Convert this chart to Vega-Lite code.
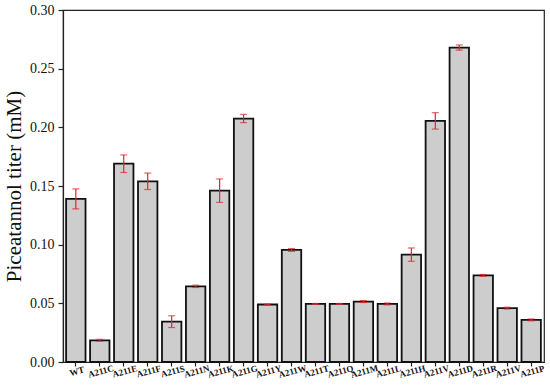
{
  "$schema": "https://vega.github.io/schema/vega-lite/v6.json",
  "autosize": "none",
  "padding": {"left": 63, "top": 10, "right": 6, "bottom": 23},
  "width": 481,
  "height": 352,
  "background": "white",
  "config": {
    "view": {"stroke": "#222", "strokeWidth": 1.2},
    "font": "Liberation Serif",
    "axis": {
      "domainColor": "#222",
      "domainWidth": 1.2,
      "tickColor": "#222",
      "tickWidth": 1.2,
      "labelColor": "#111",
      "titleColor": "#111",
      "labelFont": "Liberation Serif",
      "titleFont": "Liberation Serif",
      "grid": false
    }
  },
  "data": {
    "values": [
      {"mutant": "WT", "titer": 0.139, "err": 0.0085},
      {"mutant": "A211C", "titer": 0.0185, "err": 0.0008},
      {"mutant": "A211E", "titer": 0.169, "err": 0.0075},
      {"mutant": "A211F", "titer": 0.154, "err": 0.007},
      {"mutant": "A211S", "titer": 0.0344, "err": 0.005},
      {"mutant": "A211N", "titer": 0.0645, "err": 0.001},
      {"mutant": "A211K", "titer": 0.146, "err": 0.01},
      {"mutant": "A211G", "titer": 0.2075, "err": 0.0035},
      {"mutant": "A211Y", "titer": 0.049, "err": 0.0004},
      {"mutant": "A211W", "titer": 0.0955, "err": 0.0012},
      {"mutant": "A211T", "titer": 0.0495, "err": 0.0004},
      {"mutant": "A211Q", "titer": 0.0495, "err": 0.0004},
      {"mutant": "A211M", "titer": 0.0515, "err": 0.0008},
      {"mutant": "A211L", "titer": 0.0495, "err": 0.0008},
      {"mutant": "A211H", "titer": 0.0915, "err": 0.0057},
      {"mutant": "A211V", "titer": 0.2055, "err": 0.007},
      {"mutant": "A211D", "titer": 0.268, "err": 0.0022},
      {"mutant": "A211R", "titer": 0.0738, "err": 0.0008},
      {"mutant": "A211V ", "titer": 0.0459, "err": 0.0008},
      {"mutant": "A211P", "titer": 0.0359, "err": 0.0008}
    ]
  },
  "encoding": {
    "x": {
      "field": "mutant",
      "type": "nominal",
      "sort": null,
      "title": null,
      "scale": {"paddingInner": 0.19, "paddingOuter": 0.13},
      "axis": {
        "labelAngle": -15,
        "labelAlign": "center",
        "labelBaseline": "top",
        "labelFontSize": 9,
        "labelFontWeight": "bold",
        "labelPadding": 1,
        "tickSize": 4
      }
    }
  },
  "layer": [
    {
      "mark": {"type": "bar", "fill": "#cdcdcd", "stroke": "#111", "strokeWidth": 1.8},
      "encoding": {
        "y": {
          "field": "titer",
          "type": "quantitative",
          "scale": {"domain": [0, 0.3], "nice": false},
          "title": "Piceatannol titer (mM)",
          "axis": {
            "values": [0, 0.05, 0.1, 0.15, 0.2, 0.25, 0.3],
            "format": ".2f",
            "labelFontSize": 14,
            "titleFontSize": 21,
            "titleFontWeight": "normal",
            "tickSize": 5,
            "labelPadding": 4,
            "titlePadding": 5
          }
        }
      }
    },
    {
      "mark": {"type": "errorbar", "ticks": true, "color": "#e3242b", "thickness": 1.2, "size": 7},
      "encoding": {
        "y": {"field": "titer", "type": "quantitative", "title": "Piceatannol titer (mM)"},
        "yError": {"field": "err"}
      }
    }
  ]
}
